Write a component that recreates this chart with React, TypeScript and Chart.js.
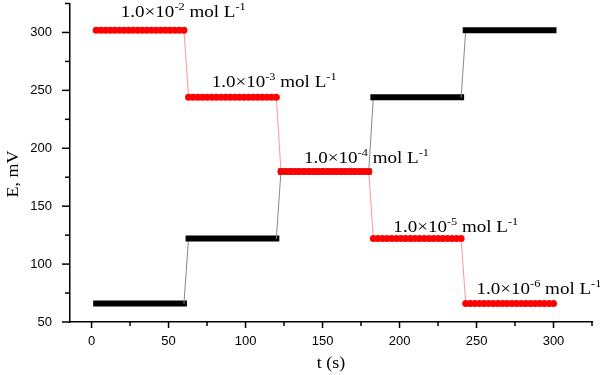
import React, { useEffect, useRef } from 'react';
import { Chart, registerables } from 'chart.js';
Chart.register(...registerables);

// Step segments (time in s) and measured potentials (mV)
const stepStart = [3, 63, 123, 183, 243];
const stepEnd = [60, 120, 180, 240, 300];
const sampleInterval = 3;
const redLevels = [302, 244, 180, 122, 66];
const blackLevels = [66, 122, 180, 244, 302];

// Concentration annotations
const concExponents = ['-2', '-3', '-4', '-5', '-6'];
const labelX = [19, 78, 138, 196, 250];
const labelY = [313, 253, 187, 128, 74];

const xTicks = [0, 25, 50, 75, 100, 125, 150, 175, 200, 225, 250, 275, 300, 325];
const yTicks = [50, 75, 100, 125, 150, 175, 200, 225, 250, 275, 300, 325];

function expand(levels: number[]) {
  const pts: { x: number; y: number }[] = [];
  levels.forEach((lv, i) => {
    for (let t = stepStart[i]; t <= stepEnd[i]; t += sampleInterval) pts.push({ x: t, y: lv });
  });
  return pts;
}

const SERIF = '"Liberation Serif", "Times New Roman", serif';
const SANS = '"Liberation Sans", Arial, sans-serif';
const SX = 1.12;

function drawRich(ctx: CanvasRenderingContext2D, x: number, y: number, parts: { t: string; sup?: boolean }[]) {
  ctx.save();
  ctx.translate(x, y);
  ctx.scale(SX, 1);
  ctx.fillStyle = '#000';
  ctx.textBaseline = 'alphabetic';
  ctx.textAlign = 'left';
  let cx = 0;
  for (const p of parts) {
    ctx.font = p.sup ? `11px ${SERIF}` : `17px ${SERIF}`;
    ctx.fillText(p.t, cx, p.sup ? -7 : 0);
    cx += ctx.measureText(p.t).width;
  }
  ctx.restore();
}

const overlay = {
  id: 'overlay',
  afterDraw(chart: any) {
    const ctx: CanvasRenderingContext2D = chart.ctx;
    const xs = chart.scales.x;
    const ys = chart.scales.y;
    const area = chart.chartArea;
    ctx.save();
    ctx.strokeStyle = '#000';
    ctx.lineWidth = 1.5;
    xTicks.forEach((v) => {
      const px = xs.getPixelForValue(v);
      const len = v % 50 === 0 ? 6 : 4;
      ctx.beginPath();
      ctx.moveTo(px, area.bottom);
      ctx.lineTo(px, area.bottom + len);
      ctx.stroke();
    });
    yTicks.forEach((v) => {
      const py = ys.getPixelForValue(v);
      const len = v % 50 === 0 ? 8 : 5;
      ctx.beginPath();
      ctx.moveTo(area.left, py);
      ctx.lineTo(area.left - len, py);
      ctx.stroke();
    });
    ctx.restore();

    concExponents.forEach((e, i) => {
      drawRich(ctx, xs.getPixelForValue(labelX[i]), ys.getPixelForValue(labelY[i]), [
        { t: '1.0×10' },
        { t: e, sup: true },
        { t: ' mol L' },
        { t: '-1', sup: true },
      ]);
    });

    // axis titles
    ctx.save();
    ctx.fillStyle = '#000';
    ctx.font = `16px ${SERIF}`;
    ctx.textAlign = 'center';
    ctx.textBaseline = 'middle';
    ctx.translate((area.left + area.right) / 2, 364);
    ctx.scale(SX, 1);
    ctx.fillText('t (s)', 0, 0);
    ctx.restore();

    ctx.save();
    ctx.fillStyle = '#000';
    ctx.font = `16px ${SERIF}`;
    ctx.textAlign = 'center';
    ctx.textBaseline = 'middle';
    ctx.translate(14, 174);
    ctx.rotate(-Math.PI / 2);
    ctx.scale(SX, 1);
    ctx.fillText('E, mV', 0, 0);
    ctx.restore();
  },
};

export default function App() {
  const ref = useRef<HTMLCanvasElement>(null);
  useEffect(() => {
    if (!ref.current) return;
    const isJump = (c: any) => c.p0.parsed.y !== c.p1.parsed.y;
    const chart = new Chart(ref.current, {
      type: 'line',
      data: {
        datasets: [
          {
            label: 'decreasing',
            data: expand(redLevels),
            borderColor: '#ff0000',
            borderWidth: 1,
            pointRadius: 3.5,
            pointBackgroundColor: '#ff0000',
            pointBorderWidth: 0,
            pointHoverRadius: 3.5,
            segment: {
              borderColor: (c: any) => (isJump(c) ? 'rgba(255,80,80,0.6)' : '#ff0000'),
            },
          },
          {
            label: 'increasing',
            data: expand(blackLevels),
            borderColor: '#000',
            borderWidth: 6,
            borderCapStyle: 'square',
            pointRadius: 0,
            segment: {
              borderColor: (c: any) => (isJump(c) ? '#888' : '#000'),
              borderWidth: (c: any) => (isJump(c) ? 1 : 6),
            },
          },
        ],
      },
      options: {
        animation: false,
        responsive: false,
        maintainAspectRatio: false,
        layout: { padding: { top: 3, right: 8, left: 0, bottom: 0 } },
        plugins: { legend: { display: false }, tooltip: { enabled: false } },
        events: [],
        scales: {
          x: {
            type: 'linear',
            min: -14,
            max: 325,
            afterBuildTicks: (s: any) => {
              s.ticks = xTicks.map((v) => ({ value: v }));
            },
            afterFit: (s: any) => {
              s.height = 53;
              s.paddingLeft = 0;
              s.paddingRight = 0;
              s.paddingTop = 0;
              s.paddingBottom = 0;
            },
            grid: { display: false, drawTicks: false },
            border: { display: true, color: '#000', width: 1.5 },
            ticks: {
              padding: 12,
              color: '#000',
              font: { family: SANS, size: 13 },
              maxRotation: 0,
              autoSkip: false,
              callback: (v: any) => (v % 50 === 0 ? String(v) : ''),
            },
          },
          y: {
            type: 'linear',
            min: 50,
            max: 325,
            afterBuildTicks: (s: any) => {
              s.ticks = yTicks.map((v) => ({ value: v }));
            },
            afterFit: (s: any) => {
              s.width = 70;
              s.paddingTop = 0;
              s.paddingBottom = 0;
              s.paddingLeft = 0;
              s.paddingRight = 0;
            },
            grid: { display: false, drawTicks: false },
            border: { display: true, color: '#000', width: 1.5 },
            ticks: {
              padding: 18,
              color: '#000',
              font: { family: SANS, size: 13 },
              autoSkip: false,
              callback: (v: any) => (v % 50 === 0 && v <= 300 ? String(v) : ''),
            },
          },
        },
      },
      plugins: [overlay],
    });
    return () => chart.destroy();
  }, []);
  return (
    <div style={{ position: 'absolute', left: 0, top: 0, width: 600, height: 375, background: '#fff' }}>
      <canvas ref={ref} width={600} height={375} style={{ width: 600, height: 375 }} />
    </div>
  );
}
